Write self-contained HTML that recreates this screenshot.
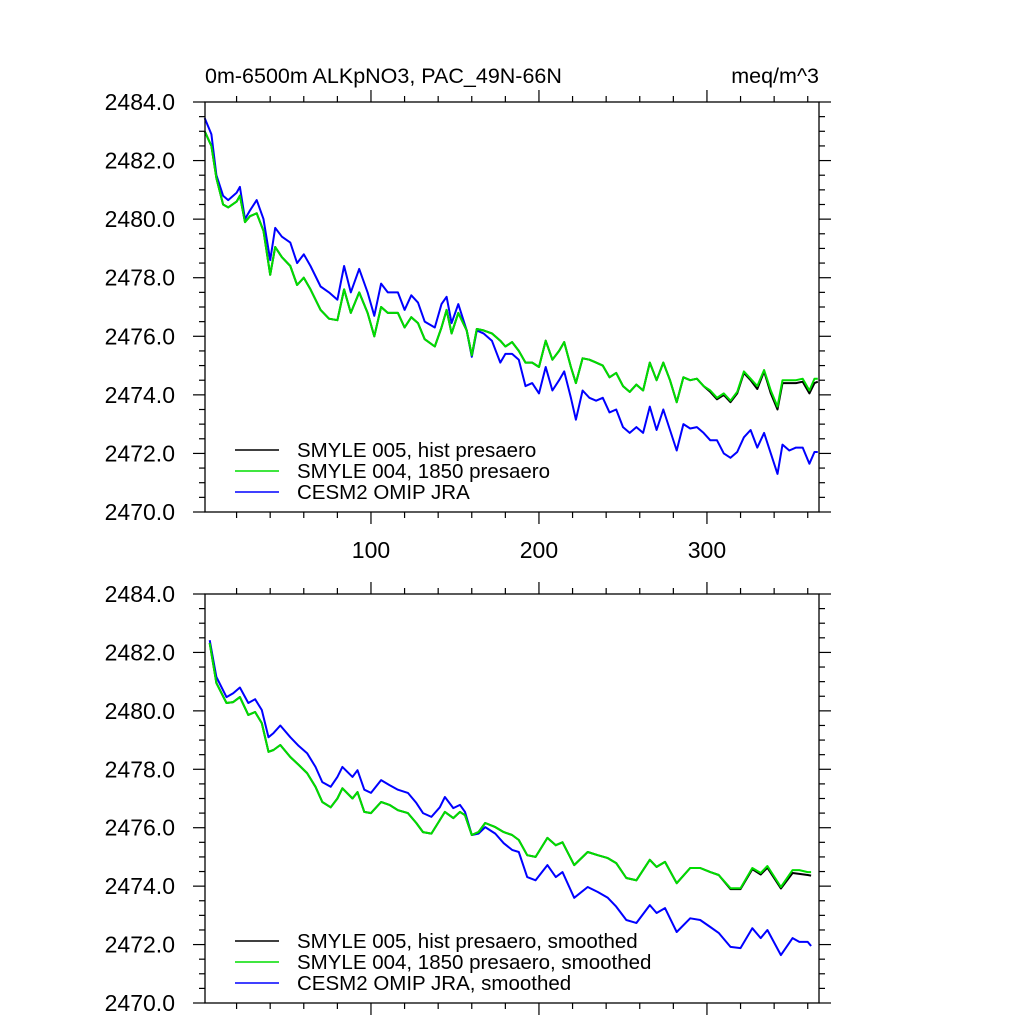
<!DOCTYPE html>
<html><head><meta charset="utf-8"><style>
html,body{margin:0;padding:0;background:#fff;}
svg{display:block;font-family:"Liberation Sans",Arial,sans-serif;}
</style></head><body>
<svg id="chart" width="1024" height="1024" viewBox="0 0 1024 1024">
<rect width="1024" height="1024" fill="#fff"/>
</svg>
<script>
// ---------- DATA ----------
const yTicks = [2470, 2472, 2474, 2476, 2478, 2480, 2482, 2484];
const xTicks = [100, 200, 300];
const legendTop = ["SMYLE 005, hist presaero", "SMYLE 004, 1850 presaero", "CESM2 OMIP JRA"];
const legendBottom = ["SMYLE 005, hist presaero, smoothed", "SMYLE 004, 1850 presaero, smoothed", "CESM2 OMIP JRA, smoothed"];

// top panel (raw)
const rawMonths = [1,5,8,12,15,20,22,25,28,32,36,40,43,47,52,56,60,64,70,75,80,84,88,93,98,102,106,110,116,120,124,128,132,138,142,145,148,152,157,160,163,167,172,177,180,184,188,192,196,200,204,208,212,215,219,222,226,230,234,238,242,246,250,254,258,262,266,270,274,278,282,286,290,294,298,302,306,310,314,318,322,326,330,334,338,342,345,349,353,357,361,364,366];
const rawOmip = [2483.45,2482.9,2481.5,2480.8,2480.65,2480.9,2481.1,2480.0,2480.3,2480.65,2480.0,2478.6,2479.7,2479.4,2479.2,2478.5,2478.8,2478.4,2477.7,2477.5,2477.25,2478.4,2477.5,2478.3,2477.5,2476.7,2477.8,2477.5,2477.5,2476.9,2477.4,2477.15,2476.5,2476.3,2477.1,2477.35,2476.45,2477.1,2476.2,2475.3,2476.2,2476.1,2475.85,2475.1,2475.4,2475.4,2475.2,2474.3,2474.4,2474.05,2474.95,2474.15,2474.5,2474.8,2473.9,2473.15,2474.15,2473.9,2473.8,2473.9,2473.4,2473.5,2472.9,2472.7,2472.9,2472.7,2473.6,2472.8,2473.5,2472.8,2472.1,2473.0,2472.85,2472.9,2472.7,2472.45,2472.45,2472.0,2471.85,2472.05,2472.55,2472.8,2472.2,2472.7,2472.0,2471.3,2472.3,2472.1,2472.2,2472.2,2471.65,2472.05,2472.05];
const raw1850 = [2483.0,2482.5,2481.4,2480.5,2480.4,2480.6,2480.8,2479.9,2480.1,2480.2,2479.6,2478.1,2479.05,2478.7,2478.4,2477.75,2478.0,2477.6,2476.9,2476.6,2476.55,2477.6,2476.8,2477.5,2476.8,2476.0,2477.0,2476.8,2476.8,2476.3,2476.65,2476.45,2475.9,2475.65,2476.3,2476.9,2476.1,2476.8,2476.2,2475.35,2476.25,2476.2,2476.1,2475.85,2475.65,2475.8,2475.5,2475.1,2475.1,2474.95,2475.85,2475.2,2475.5,2475.8,2474.95,2474.4,2475.25,2475.2,2475.1,2475.0,2474.6,2474.75,2474.3,2474.1,2474.35,2474.15,2475.1,2474.5,2475.1,2474.5,2473.75,2474.6,2474.5,2474.55,2474.3,2474.15,2473.9,2474.05,2473.8,2474.1,2474.8,2474.55,2474.3,2474.85,2474.15,2473.6,2474.5,2474.5,2474.5,2474.55,2474.15,2474.55,2474.55];
const rawHist = [2483.0,2482.5,2481.4,2480.5,2480.4,2480.6,2480.8,2479.9,2480.1,2480.2,2479.6,2478.1,2479.05,2478.7,2478.4,2477.75,2478.0,2477.6,2476.9,2476.6,2476.55,2477.6,2476.8,2477.5,2476.8,2476.0,2477.0,2476.8,2476.8,2476.3,2476.65,2476.45,2475.9,2475.65,2476.3,2476.9,2476.1,2476.8,2476.2,2475.35,2476.25,2476.2,2476.1,2475.85,2475.65,2475.8,2475.5,2475.1,2475.1,2474.95,2475.85,2475.2,2475.5,2475.8,2474.95,2474.4,2475.25,2475.2,2475.1,2475.0,2474.6,2474.75,2474.3,2474.1,2474.35,2474.15,2475.1,2474.5,2475.1,2474.5,2473.75,2474.6,2474.5,2474.55,2474.3,2474.1,2473.85,2474.0,2473.75,2474.05,2474.75,2474.5,2474.2,2474.8,2474.05,2473.5,2474.4,2474.4,2474.4,2474.45,2474.05,2474.4,2474.45];

// bottom panel (smoothed)
const smMonths = [4,8,14,18,22,27,31,35,39,42,46,52,57,62,67,71,76,80,83,89,92,96,100,106,111,116,122,127,131,136,141,144,149,153,156,160,164,168,174,179,184,188,193,198,205,210,214,221,229,235,241,246,252,258,266,270,275,282,290,296,302,307,314,320,327,332,336,344,351,355,360,362];
const smOmip = [2482.42,2481.16,2480.47,2480.6,2480.8,2480.27,2480.4,2480.03,2479.1,2479.24,2479.5,2479.1,2478.8,2478.55,2478.08,2477.56,2477.4,2477.74,2478.08,2477.74,2477.97,2477.3,2477.19,2477.63,2477.46,2477.3,2477.19,2476.85,2476.5,2476.37,2476.7,2477.05,2476.67,2476.78,2476.54,2475.75,2475.8,2476.02,2475.8,2475.47,2475.24,2475.17,2474.31,2474.2,2474.72,2474.31,2474.48,2473.6,2473.97,2473.8,2473.6,2473.3,2472.84,2472.74,2473.35,2473.08,2473.25,2472.43,2472.9,2472.84,2472.6,2472.4,2471.92,2471.88,2472.56,2472.22,2472.5,2471.64,2472.22,2472.09,2472.09,2471.95];
const sm1850 = [2482.32,2480.95,2480.27,2480.3,2480.47,2479.86,2479.96,2479.58,2478.6,2478.66,2478.83,2478.42,2478.15,2477.87,2477.4,2476.88,2476.7,2477.0,2477.35,2477.0,2477.22,2476.54,2476.5,2476.88,2476.78,2476.6,2476.5,2476.16,2475.85,2475.8,2476.26,2476.54,2476.33,2476.54,2476.43,2475.75,2475.85,2476.16,2476.02,2475.85,2475.75,2475.58,2475.06,2475.0,2475.65,2475.4,2475.5,2474.72,2475.17,2475.06,2474.96,2474.79,2474.28,2474.2,2474.9,2474.66,2474.83,2474.1,2474.62,2474.62,2474.48,2474.38,2473.93,2473.93,2474.62,2474.45,2474.69,2473.97,2474.55,2474.55,2474.48,2474.48];
const smHist = [2482.32,2480.95,2480.27,2480.3,2480.47,2479.86,2479.96,2479.58,2478.6,2478.66,2478.83,2478.42,2478.15,2477.87,2477.4,2476.88,2476.7,2477.0,2477.35,2477.0,2477.22,2476.54,2476.5,2476.88,2476.78,2476.6,2476.5,2476.16,2475.85,2475.8,2476.26,2476.54,2476.33,2476.54,2476.43,2475.75,2475.85,2476.16,2476.02,2475.85,2475.75,2475.58,2475.06,2475.0,2475.65,2475.4,2475.5,2474.72,2475.17,2475.06,2474.96,2474.79,2474.28,2474.2,2474.9,2474.66,2474.83,2474.1,2474.62,2474.62,2474.48,2474.38,2473.9,2473.9,2474.58,2474.4,2474.63,2473.92,2474.45,2474.42,2474.38,2474.36];

// ---------- DRAW ----------
const NS = "http://www.w3.org/2000/svg";
const svg = document.getElementById("chart");
const X0 = 205, X1 = 819, XMIN = 1.2, XMAX = 366.7;
function xs(m){ return X0 + (m - XMIN) * (X1 - X0) / (XMAX - XMIN); }
function mk(tag, attrs, parent){
  const e = document.createElementNS(NS, tag);
  for (const k in attrs) e.setAttribute(k, attrs[k]);
  (parent || svg).appendChild(e);
  return e;
}

function panel(top, bottom, name, showXLabels, months, series, legend, legY){
  const g = mk("g", {});
  
  
  const ys = v => bottom - (v - 2470) * (bottom - top) / 14;
  const colors = ["#000000", "#00dd00", "#0000ff"];
  const sNames = ["hist-presaero-line", "1850-presaero-line", "omip-jra-line"];
  const drawOrder = [2, 0, 1];
  drawOrder.forEach(i => {
    const vals = series[i];
    let d = "";
    for (let k = 0; k < vals.length; k++) d += (k ? "L" : "M") + xs(months[k]).toFixed(1) + "," + ys(vals[k]).toFixed(1);
    const p = mk("path", {d: d, fill: "none", stroke: colors[i], "stroke-width": 2, "stroke-linejoin": "round"}, g);
    
    
  });
  const fr = mk("rect", {x: X0, y: top, width: X1 - X0, height: bottom - top, fill: "none", stroke: "#000", "stroke-width": 1.3}, g);
  
  
  const yAxis = mk("g", {}, g);
  
  
  for (let v = 2470; v <= 2484.001; v += 0.5) {
    const y = ys(v);
    const major = Math.abs(v - Math.round(v / 2) * 2) < 1e-6;
    const L = major ? 12 : 6;
    mk("line", {x1: X0 - L, x2: X0, y1: y, y2: y, stroke: "#000", "stroke-width": 1.2}, yAxis);
    mk("line", {x1: X1, x2: X1 + L, y1: y, y2: y, stroke: "#000", "stroke-width": 1.2}, yAxis);
  }
  yTicks.forEach(v => {
    const t = mk("text", {x: 175, y: ys(v) + 8, "text-anchor": "end", "font-size": 23, fill: "#000"}, yAxis);
    t.textContent = v.toFixed(1);
    
    
  });
  const xAxis = mk("g", {}, g);
  
  
  for (let m = 20; m <= 366; m += 20) {
    const x = xs(m);
    const L = (m % 100 === 0) ? 12 : 6;
    mk("line", {x1: x, x2: x, y1: bottom, y2: bottom + L, stroke: "#000", "stroke-width": 1.2}, xAxis);
    mk("line", {x1: x, x2: x, y1: top - L, y2: top, stroke: "#000", "stroke-width": 1.2}, xAxis);
  }
  if (showXLabels) {
    xTicks.forEach(v => {
      const t = mk("text", {x: xs(v), y: 558, "text-anchor": "middle", "font-size": 23, fill: "#000"}, xAxis);
      t.textContent = v;
      
      
    });
  }
  const lg = mk("g", {}, g);
  
  
  [0, 1, 2].forEach(i => {
    const y = legY + i * 21;
    mk("line", {x1: 235, x2: 279, y1: y, y2: y, stroke: colors[i], "stroke-width": 1.6}, lg);
    const t = mk("text", {x: 297, y: y + 7, "font-size": 20.5, fill: "#000"}, lg);
    t.textContent = legend[i];
    
    
  });
}

panel(102, 512, "top-panel-raw", true, rawMonths, [rawHist, raw1850, rawOmip], legendTop, 450);
panel(594, 1003, "bottom-panel-smoothed", false, smMonths, [smHist, sm1850, smOmip], legendBottom, 941);

const t1 = mk("text", {x: 205, y: 83, "font-size": 21.5, fill: "#000"});
t1.textContent = "0m-6500m ALKpNO3, PAC_49N-66N";


const t2 = mk("text", {x: 819, y: 83, "font-size": 21.5, fill: "#000", "text-anchor": "end"});
t2.textContent = "meq/m^3";


</script>
</body></html>
